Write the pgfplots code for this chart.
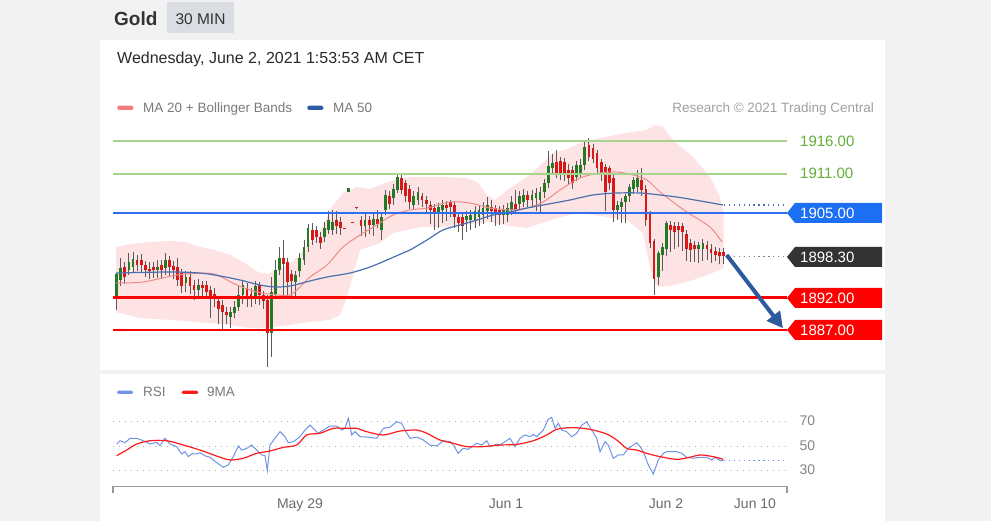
\documentclass[border=0pt]{standalone}
\usepackage{pgfplots}
\pgfplotsset{compat=1.18}
\usepackage{pgfplotstable}
\usetikzlibrary{arrows.meta}
\usepackage{fontspec}
\setmainfont{Liberation Sans}
\newcommand\fs[1]{\fontsize{#1bp}{#1bp}\selectfont}

\definecolor{bgc}{HTML}{F2F2F2}
\definecolor{headbox}{HTML}{DADDE2}
\definecolor{txtdark}{HTML}{333333}
\definecolor{txtdate}{HTML}{2A2A2A}
\definecolor{legtxt}{HTML}{7A7A7A}
\definecolor{restxt}{HTML}{A0A0A0}
\definecolor{bandfill}{HTML}{FDE3E3}
\definecolor{ma20}{HTML}{F08A8A}
\definecolor{ma20sw}{HTML}{F47C7C}
\definecolor{ma50}{HTML}{4A70B0}
\definecolor{ma50sw}{HTML}{2D5CA6}
\definecolor{cgreen}{RGB}{36,122,36}
\definecolor{cred}{RGB}{214,24,24}
\definecolor{wick}{HTML}{5A5A5A}
\definecolor{lvgreen}{HTML}{A6D48C}
\definecolor{lvgreentxt}{HTML}{62B034}
\definecolor{lvblue}{HTML}{2F6FEB}
\definecolor{tagblue}{HTML}{1C6EF2}
\definecolor{tagdark}{HTML}{333333}
\definecolor{lvred}{HTML}{FF0000}
\definecolor{arrowblue}{HTML}{2D5A9C}
\definecolor{rsiblue}{HTML}{7093E6}
\definecolor{rsired}{HTML}{FF1A1A}
\definecolor{gridg}{HTML}{B0B0B0}
\definecolor{axg}{HTML}{9A9A9A}
\definecolor{ticklab}{HTML}{858585}
\definecolor{datelab}{HTML}{6B6B6B}

\pgfplotstableread{
i o h l c
0 1892.1 1895.7 1890.1 1895.6
1 1894.7 1898.0 1893.7 1896.5
2 1896.7 1897.5 1894.0 1895.2
3 1896.2 1898.8 1895.5 1897.5
4 1896.7 1899.0 1895.7 1897.9
5 1897.7 1898.5 1896.0 1897.0
6 1897.8 1898.6 1895.8 1897.0
7 1897.0 1897.6 1895.2 1896.2
8 1896.4 1897.4 1894.8 1896.0
9 1896.7 1897.5 1895.0 1896.2
10 1896.2 1897.8 1895.0 1896.7
11 1897.0 1897.7 1894.9 1896.2
12 1896.5 1898.8 1895.5 1897.75
13 1897.8 1898.4 1895.2 1896.7
14 1896.9 1897.6 1894.9 1896.2
15 1896.7 1898.0 1893.8 1894.7
16 1895.7 1896.3 1892.7 1893.7
17 1894.2 1896.0 1892.9 1895.2
18 1895.2 1896.0 1892.6 1893.7
19 1893.9 1894.7 1891.6 1893.2
20 1893.2 1894.8 1891.9 1893.9
21 1893.9 1894.6 1892.0 1893.5
22 1893.9 1894.5 1891.8 1892.9
23 1893.1 1893.8 1888.8 1892.1
24 1892.6 1893.4 1890.6 1891.9
25 1891.4 1892.2 1888.0 1890.3
26 1890.9 1891.6 1887.0 1889.8
27 1889.8 1890.6 1888.0 1889.3
28 1889.05 1890.5 1887.3 1889.8
29 1889.6 1891.4 1888.8 1890.6
30 1890.6 1893.7 1889.9 1892.4
31 1892.4 1894.6 1891.0 1893.9
32 1893.4 1894.2 1890.6 1891.9
33 1892.6 1893.5 1890.5 1891.9
34 1892.1 1894.5 1891.0 1893.7
35 1893.9 1894.3 1890.9 1892.4
36 1892.4 1893.0 1890.2 1891.4
37 1891.6 1892.4 1881.3 1886.6
38 1886.6 1895.2 1882.9 1892.9
39 1892.6 1897.75 1892.0 1896.2
40 1896.2 1899.8 1895.5 1898.0
41 1898.1 1900.8 1892.1 1897.2
42 1897.5 1898.0 1891.9 1894.4
43 1895.6 1896.2 1892.0 1894.6
44 1894.4 1896.0 1891.9 1895.4
45 1896.0 1898.8 1895.2 1898.0
46 1897.75 1900.8 1897.0 1899.8
47 1899.8 1903.2 1899.0 1902.6
48 1902.4 1903.4 1900.0 1900.8
49 1902.4 1903.0 1900.4 1901.3
50 1901.3 1902.0 1899.4 1900.3
51 1901.3 1903.5 1900.5 1902.6
52 1902.4 1905.2 1901.8 1903.9
53 1902.4 1905.4 1901.6 1903.6
54 1903.9 1905.2 1901.8 1902.9
55 1903.6 1904.3 1901.6 1902.6
56 1902.65 1902.7 1902.5 1902.55
57 1908.2 1908.8 1908.2 1908.75
58 1903.55 1903.6 1903.45 1903.5
59 1905.75 1905.8 1905.6 1905.7
60 1903.9 1904.5 1901.5 1902.9
61 1902.9 1904.8 1901.3 1903.9
62 1903.9 1904.5 1901.8 1903.1
63 1903.1 1904.9 1901.5 1904.1
64 1904.0 1905.4 1902.6 1903.2
65 1902.4 1905.0 1900.8 1904.4
66 1905.4 1908.5 1904.6 1907.7
67 1907.5 1908.3 1905.6 1906.4
68 1907.2 1909.4 1906.2 1908.7
69 1908.5 1910.9 1908.0 1910.5
70 1910.3 1910.8 1907.8 1908.5
71 1909.5 1910.0 1906.6 1907.5
72 1908.7 1909.2 1905.6 1906.7
73 1906.2 1908.3 1905.4 1907.5
74 1907.0 1908.9 1906.2 1908.2
75 1907.5 1908.0 1905.8 1906.95
76 1906.95 1907.6 1904.8 1906.4
77 1906.2 1906.8 1903.2 1905.4
78 1905.7 1906.3 1902.35 1904.9
79 1904.9 1906.5 1902.6 1905.9
80 1905.4 1906.9 1903.4 1906.2
81 1906.2 1906.8 1903.8 1905.7
82 1906.7 1907.0 1904.3 1905.9
83 1906.2 1906.8 1902.7 1904.4
84 1904.4 1905.0 1902.0 1903.4
85 1904.4 1905.1 1900.8 1902.9
86 1903.9 1905.2 1902.0 1904.5
87 1903.9 1905.4 1902.3 1904.65
88 1903.9 1906.0 1902.6 1905.2
89 1904.4 1906.2 1903.0 1905.4
90 1904.65 1906.6 1903.2 1905.7
91 1905.2 1907.4 1904.0 1906.2
92 1905.9 1906.9 1903.5 1905.2
93 1905.7 1906.2 1903.0 1904.65
94 1905.4 1906.0 1903.1 1904.65
95 1904.65 1906.2 1903.2 1905.4
96 1904.65 1906.5 1903.6 1905.7
97 1905.4 1907.5 1904.6 1906.7
98 1906.4 1908.5 1904.8 1905.4
99 1906.4 1908.3 1905.6 1907.5
100 1906.7 1908.6 1905.8 1907.7
101 1907.7 1908.4 1905.9 1906.95
102 1906.95 1908.5 1905.7 1907.7
103 1907.2 1908.8 1905.2 1908.0
104 1906.95 1909.0 1905.0 1908.2
105 1908.2 1910.2 1907.2 1909.5
106 1909.5 1914.4 1908.8 1912.1
107 1911.8 1914.0 1910.8 1912.6
108 1912.8 1914.6 1910.3 1911.0
109 1913.0 1913.6 1910.0 1910.9
110 1912.8 1913.4 1909.8 1910.8
111 1911.6 1912.4 1909.4 1910.3
112 1911.6 1912.2 1908.6 1909.5
113 1910.5 1913.0 1909.8 1912.3
114 1911.0 1913.2 1910.4 1912.3
115 1912.3 1915.8 1911.6 1915.1
116 1915.4 1916.4 1913.0 1913.6
117 1914.9 1915.5 1912.6 1913.3
118 1914.1 1914.6 1911.0 1911.8
119 1912.8 1913.3 1909.8 1910.8
120 1912.0 1912.5 1905.2 1908.2
121 1911.8 1912.2 1908.5 1909.5
122 1910.3 1910.8 1903.5 1905.4
123 1905.4 1906.8 1903.9 1906.2
124 1905.9 1907.2 1903.4 1906.7
125 1906.7 1907.9 1903.4 1907.5
126 1907.5 1909.4 1906.6 1909.0
127 1908.7 1910.5 1907.8 1910.0
128 1909.0 1911.5 1908.2 1910.3
129 1910.0 1911.8 1907.6 1908.5
130 1908.7 1909.2 1903.0 1903.9
131 1904.9 1905.3 1899.6 1900.3
132 1900.6 1901.0 1892.4 1894.9
133 1895.2 1899.2 1893.9 1898.8
134 1898.5 1900.4 1896.0 1899.8
135 1899.5 1903.8 1898.4 1903.4
136 1903.1 1903.7 1899.0 1902.3
137 1903.0 1903.6 1899.5 1902.1
138 1903.0 1903.5 1899.8 1902.3
139 1903.0 1903.4 1899.2 1902.1
140 1901.8 1902.4 1897.6 1899.5
141 1900.3 1900.9 1897.4 1899.3
142 1900.0 1900.6 1897.5 1899.5
143 1899.5 1900.5 1897.3 1900.0
144 1899.5 1901.0 1897.6 1900.3
145 1900.0 1900.7 1897.8 1899.5
146 1899.5 1900.2 1897.3 1898.8
147 1899.2 1899.8 1897.6 1898.5
148 1899.0 1899.6 1897.2 1898.3
149 1899.0 1899.6 1897.2 1898.3
}\candles

\newcommand\pricetag[3]{%
  \fill[#2] (787bp,#1bp) -- (795bp,#1bp+10bp) -- (882bp,#1bp+10bp) -- (882bp,#1bp-10bp) -- (795bp,#1bp-10bp) -- cycle;
  \node[anchor=west, inner sep=0pt, text=white, font=\fs{15}] at (800bp,#1bp) {#3};}

\begin{document}
\begin{tikzpicture}
\fill[bgc] (0,0) rectangle (991bp,521bp);
\fill[white] (100bp,151bp) rectangle (885bp,481bp);
\fill[white] (100bp,0bp) rectangle (885bp,147bp);

% ---------------- main price panel ----------------
\begin{axis}[at={(100bp,151bp)}, anchor=south west, scale only axis,
  width=785bp, height=330bp, xmin=100, xmax=885,
  ymin=1880.8773, ymax=1931.4908, axis lines=none, ticks=none]
% Bollinger band (upper boundary, then lower boundary back)
\addplot[fill=bandfill, draw=none, forget plot] coordinates {
(116,1899.74) (130,1900.20) (150,1900.51) (170,1900.67) (185,1900.51) (200,1899.74)
(215,1899.28) (230,1898.52) (245,1897.29) (258,1895.91) (268,1895.60) (280,1896.52)
(292,1897.44) (300,1898.52) (312,1900.82) (322,1902.66) (332,1905.88) (343,1908.02)
(357,1908.94) (370,1908.64) (380,1909.25) (395,1910.02) (410,1910.48) (440,1910.48)
(467,1910.33) (477,1909.71) (487,1907.72) (495,1906.95) (510,1908.79) (527,1910.48)
(543,1912.63) (553,1914.16) (565,1914.62) (580,1915.69) (600,1916.46) (627,1917.23)
(647,1917.69) (655,1918.45) (663,1918.15) (673,1916.15) (693,1913.55) (710,1910.48)
(720,1907.41) (723.5,1904.96)
(723.5,1896.52) (710,1895.6) (693,1894.68) (670,1893.76) (657,1893.61) (650,1896.5)
(643,1901.89) (627,1903.88) (600,1904.50) (580,1904.96) (560,1904.34) (545,1903.58)
(527,1902.66) (510,1902.97) (490,1903.58) (470,1903.27) (450,1902.81) (420,1902.81)
(393,1901.89) (380,1900.36) (360,1899.28) (347,1892.07) (340,1889.31) (330,1888.55)
(310,1888.24) (290,1887.78) (265,1887.32) (250,1887.32) (230,1887.78) (200,1888.24)
(170,1888.55) (140,1888.85) (116,1889.77)} -- cycle;

% wicks
\addplot[draw=none, mark=none, forget plot,
  error bars/.cd, y dir=plus, y explicit, error mark=none,
  error bar style={draw=wick, line width=0.9bp}]
  table[x expr=116.7+4.071*\thisrow{i}, y=l, y error plus expr=\thisrow{h}-\thisrow{l}] {\candles};
% green bodies
\addplot[draw=none, mark=none, forget plot,
  error bars/.cd, y dir=plus, y explicit, error mark=none,
  error bar style={draw=cgreen, line width=2.8bp}]
  table[x expr=116.7+4.071*\thisrow{i},
        y expr={\thisrow{c}>=\thisrow{o} ? \thisrow{o} : nan},
        y error plus expr={max(\thisrow{c}-\thisrow{o},0.15)}] {\candles};
% red bodies
\addplot[draw=none, mark=none, forget plot,
  error bars/.cd, y dir=plus, y explicit, error mark=none,
  error bar style={draw=cred, line width=2.8bp}]
  table[x expr=116.7+4.071*\thisrow{i},
        y expr={\thisrow{c}<\thisrow{o} ? \thisrow{c} : nan},
        y error plus expr={max(\thisrow{o}-\thisrow{c},0.15)}] {\candles};

% MA 20
\addplot[ma20, line width=1bp, smooth, tension=0.5] coordinates {
(116,1894.22) (143,1894.37) (177,1895.45) (203,1895.75) (217,1895.45) (237,1893.91)
(257,1892.84) (277,1892.38) (290,1892.38) (300,1893.61) (310,1895.14) (327,1896.98)
(343,1899.74) (360,1901.58) (377,1903.12) (393,1904.65) (410,1905.42) (427,1905.72)
(450,1906.64) (470,1906.49) (490,1905.72) (510,1905.42) (527,1905.72) (543,1906.64)
(560,1908.48) (580,1910.33) (600,1911.09) (617,1911.25) (633,1910.79) (647,1910.02)
(660,1908.18) (677,1906.18) (690,1904.80) (710,1902.81) (722,1900.51)};
% MA 50
\addplot[ma50, line width=1.2bp, smooth, tension=0.5] coordinates {
(116,1895.75) (170,1895.91) (200,1895.75) (220,1895.30) (240,1894.68) (260,1893.91)
(275,1893.61) (290,1893.76) (310,1894.53) (327,1895.14) (350,1895.75) (370,1896.67)
(387,1897.75) (403,1898.82) (410,1899.28) (427,1900.82) (443,1902.35) (460,1903.12)
(477,1903.88) (493,1904.65) (510,1905.11) (527,1905.72) (543,1906.18) (570,1906.95)
(593,1907.72) (617,1908.02) (640,1908.02) (660,1907.72) (683,1907.26) (723,1906.18)};

% levels
\addplot[lvgreen, line width=2bp] coordinates {(113,1916) (787,1916)};
\addplot[lvgreen, line width=2bp] coordinates {(113,1911) (787,1911)};
\addplot[lvblue, line width=2bp] coordinates {(113,1905) (787,1905)};
\addplot[lvred, line width=2.6bp] coordinates {(113,1892) (787,1892)};
\addplot[lvred, line width=2.6bp] coordinates {(113,1887) (787,1887)};
\addplot[ma50, line width=1.3bp, dash pattern=on 1.3bp off 3.6bp] coordinates {(724,1906.18) (787,1906.18)};
\addplot[gray, line width=1.3bp, dash pattern=on 1.3bp off 3.6bp] coordinates {(729,1898.3) (787,1898.3)};
\end{axis}

% ---------------- RSI panel ----------------
\begin{axis}[at={(100bp,0bp)}, anchor=south west, scale only axis,
  width=785bp, height=148bp, xmin=100, xmax=885,
  ymin=-11.22, ymax=109.59, axis lines=none, ticks=none]
\addplot[gridg, line width=1bp, dash pattern=on 1.2bp off 4.8bp] coordinates {(113,70) (787,70)};
\addplot[gridg, line width=1bp, dash pattern=on 1.2bp off 4.8bp] coordinates {(113,50) (787,50)};
\addplot[gridg, line width=1bp, dash pattern=on 1.2bp off 4.8bp] coordinates {(113,30) (787,30)};
\addplot[rsiblue, line width=1bp] coordinates {
(116.7,51.6) (120,54.3) (125,52.7) (130,56.3) (136.7,56.3) (143.3,54.3) (150,51.6) (156.7,53)
(160,50.4) (165,56.3) (170,51.6) (176.7,49.5) (181.7,43.5) (185,45.4) (188.3,41.3) (191.7,43.5)
(196.7,43.5) (200,44.5) (205,42) (210,40.8) (216.7,36.4) (223.3,32.6) (228.3,34.5) (233.3,41.3)
(238.3,50) (241.7,46.7) (246.7,48) (251.7,50.8) (256.7,46.7) (261.7,42.7) (265,42) (267.3,29.9)
(270,50.8) (275,56.3) (280,61.7) (285,57.6) (288.3,52.7) (293.3,53.5) (300,57.6) (305,63)
(310,67) (315,63) (318.3,60.4) (323.3,63) (330,66.3) (336.7,66.3) (341.7,63) (345,64.4)
(348.3,72.6) (351.7,59) (355,61.7) (360,57.6) (366.7,57.3) (376.7,56.3) (383.3,64.4) (390,65.3)
(396.7,69.8) (401.7,68.5) (405,63) (410,56.3) (416.7,57.3) (423.3,54.9) (430,50.8) (436.7,50)
(443.3,54.3) (450,53.5) (453.3,50.8) (458.3,44) (463.3,48.1) (468.3,47.3) (476.7,52.2) (481.7,50.8)
(486.7,54.3) (490,49.5) (496.7,51.6) (500,50.8) (505,53.5) (510,56.3) (515,49.5) (520,56.3)
(525,59) (530,57.6) (533.3,59.5) (536.7,57.6) (543.3,63) (548.3,71.8) (551.7,73.4) (555,64.4)
(558.3,68.5) (561.7,63) (566.7,61.7) (571.7,57.6) (576.7,60.4) (581.7,67) (586.7,69.8) (591.7,63)
(596.7,56.3) (600,45.4) (605,53.5) (608.3,50.8) (613.3,39.9) (618.3,42.7) (623.3,42.7) (628.3,48.1)
(633.3,50.8) (636.7,52.7) (640,49.5) (643.3,45.4) (648.3,34.5) (653.3,27.1) (658.3,38.6) (663.3,44)
(666.7,45.4) (671.7,45.4) (676.7,45.4) (681.7,44) (686.7,40.8) (693.3,40) (700,40.8) (706.7,40.8)
(711.7,38.6) (715,40.8) (720,38.1) (723.3,38.1)};
\addplot[rsired, line width=1.2bp, smooth, tension=0.5] coordinates {
(116.7,42.1) (126.7,46.7) (136.7,51.6) (150,54.3) (166.7,54.3) (183.3,50.8) (200,46.7) (216.7,41.8)
(230,38.6) (243.3,40) (256.7,44) (270,45.9) (283.3,48.9) (296.7,50.8) (306.7,59) (320,60.4)
(333.3,64.4) (346.7,64.4) (356.7,64.4) (366.7,61.7) (383.3,59) (400,62.2) (416.7,63) (426.7,60.4)
(440,54.9) (453.3,52.2) (466.7,49.5) (483.3,49.5) (500,50.8) (516.7,51.3) (533.3,54.3) (546.7,59)
(556.7,63.6) (570,65) (583.3,64.4) (593.3,63) (606.7,59.8) (616.7,54.9) (626.7,48.1) (636.7,46.7)
(646.7,44) (660,41.3) (676.7,39.1) (690,40.8) (700,42.7) (713.3,41.3) (723.3,39.1)};
\addplot[rsiblue, line width=1.2bp, dash pattern=on 1.3bp off 3.6bp] coordinates {(724,38.1) (787,38.1)};
\end{axis}

% ---------------- header & texts ----------------
\node[anchor=base west, inner sep=0pt, text=txtdark, font=\fs{19}\bfseries] at (114bp,495bp) {Gold};
\fill[headbox] (166.7bp,487.7bp) rectangle (234.3bp,519.3bp);
\node[anchor=base, inner sep=0pt, text=txtdark, font=\fs{15.5}] at (200.5bp,496bp) {30 MIN};
\node[anchor=base west, inner sep=0pt, text=txtdate, font=\fs{16}] at (117bp,457bp) {Wednesday, June 2, 2021 1:53:53 AM CET};

\fill[ma20sw, rounded corners=1.5bp] (117.3bp,411bp) rectangle (133.3bp,415.3bp);
\node[anchor=base west, inner sep=0pt, text=legtxt, font=\fs{13.5}] at (143bp,408.3bp) {MA 20 + Bollinger Bands};
\fill[ma50sw, rounded corners=1.5bp] (307.3bp,411bp) rectangle (323.3bp,415.3bp);
\node[anchor=base west, inner sep=0pt, text=legtxt, font=\fs{13.5}] at (333bp,408.3bp) {MA 50};
\node[anchor=base east, inner sep=0pt, text=restxt, font=\fs{13.5}] at (874bp,408.3bp) {Research © 2021 Trading Central};

\node[anchor=base west, inner sep=0pt, text=lvgreentxt, font=\fs{15}] at (800bp,374.3bp) {1916.00};
\node[anchor=base west, inner sep=0pt, text=lvgreentxt, font=\fs{15}] at (800bp,342.7bp) {1911.00};

\pricetag{308}{tagblue}{1905.00}
\pricetag{264}{tagdark}{1898.30}
\pricetag{223}{lvred}{1892.00}
\pricetag{191}{lvred}{1887.00}

\draw[arrowblue, line width=4bp, -{Triangle[length=16bp, width=16bp]}] (726.7bp,266bp) -- (783bp,192.7bp);

% RSI legend and labels
\fill[rsiblue, rounded corners=1.5bp] (117bp,127bp) rectangle (133bp,130.3bp);
\node[anchor=base west, inner sep=0pt, text=legtxt, font=\fs{13.5}] at (143bp,124.3bp) {RSI};
\fill[rsired, rounded corners=1.5bp] (181.7bp,127bp) rectangle (198.3bp,130.3bp);
\node[anchor=base west, inner sep=0pt, text=legtxt, font=\fs{13.5}] at (207bp,124.3bp) {9MA};

\node[anchor=base west, inner sep=0pt, text=ticklab, font=\fs{14}] at (799.3bp,95bp) {70};
\node[anchor=base west, inner sep=0pt, text=ticklab, font=\fs{14}] at (799.3bp,70bp) {50};
\node[anchor=base west, inner sep=0pt, text=ticklab, font=\fs{14}] at (799.3bp,46bp) {30};

\draw[axg, line width=1.8bp] (113.3bp,28bp) -- (113.3bp,34.5bp) -- (787bp,34.5bp) -- (787bp,28bp);
\node[anchor=base, inner sep=0pt, text=datelab, font=\fs{14}] at (300bp,12.7bp) {May 29};
\node[anchor=base, inner sep=0pt, text=datelab, font=\fs{14}] at (506bp,12.7bp) {Jun 1};
\node[anchor=base, inner sep=0pt, text=datelab, font=\fs{14}] at (666bp,12.7bp) {Jun 2};
\node[anchor=base, inner sep=0pt, text=datelab, font=\fs{14}] at (755bp,12.7bp) {Jun 10};
\end{tikzpicture}
\end{document}
